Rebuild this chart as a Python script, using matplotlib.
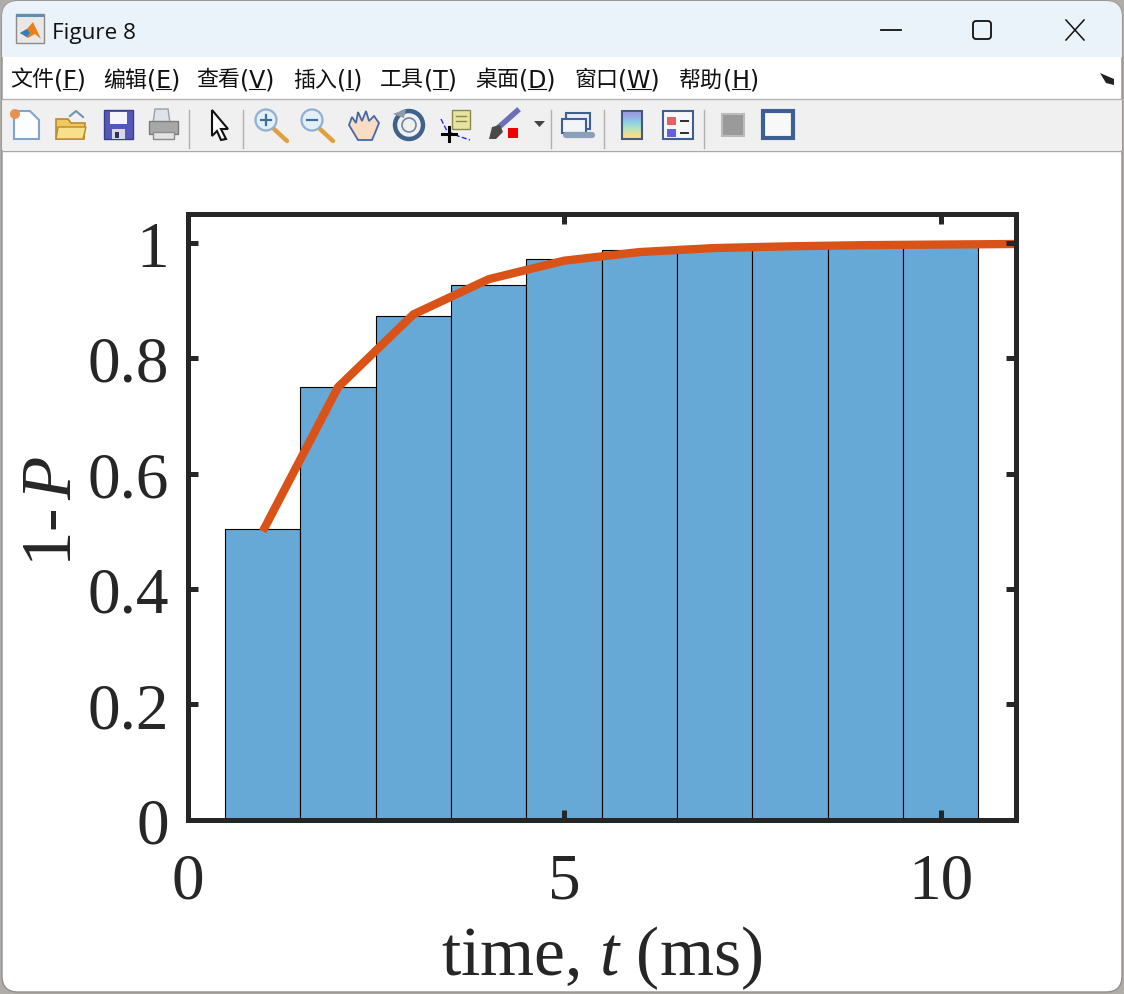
import matplotlib
matplotlib.use("Agg")
import matplotlib.pyplot as plt
from matplotlib.patches import Rectangle, Polygon, Circle, FancyBboxPatch

# ---- data ----
bar_times = [1, 2, 3, 4, 5, 6, 7, 8, 9, 10]
bar_values = [0.504, 0.750, 0.873, 0.927, 0.972, 0.988, 0.995, 0.997, 0.999, 1.000]
line_times = [1, 2, 3, 4, 5, 6, 7, 8, 9, 10, 11]
line_values = [0.500, 0.750, 0.876, 0.937, 0.969, 0.984, 0.991, 0.994, 0.996, 0.997, 0.998]
x_ticks = [0, 5, 10]
y_ticks = [0, 0.2, 0.4, 0.6, 0.8, 1]
y_tick_labels = ["0", "0.2", "0.4", "0.6", "0.8", "1"]
menu_items = [("文件", "F"), ("编辑", "E"), ("查看", "V"), ("插入", "I"),
              ("工具", "T"), ("桌面", "D"), ("窗口", "W"), ("帮助", "H")]
menu_x = [10, 103, 196, 293, 380, 475, 574, 679]

W, H = 1124, 995
plt.rcParams["mathtext.fontset"] = "custom"
plt.rcParams["mathtext.rm"] = "Liberation Serif"
plt.rcParams["mathtext.it"] = "Liberation Serif:italic"
INK = "#262626"
fig = plt.figure(figsize=(W / 100, H / 100), dpi=100, facecolor="#B0ACA8")

# ---- window chrome (pixel overlay below the plot) ----
bg = fig.add_axes([0, 0, 1, 1], zorder=0)
bg.set_xlim(0, W); bg.set_ylim(H, 0); bg.axis("off")
bg.add_patch(FancyBboxPatch((2, 2), W - 4, H - 4, boxstyle="round,pad=0,rounding_size=16",
                            fc="white", ec="#8F8F8F", lw=1))
clip = FancyBboxPatch((2, 2), W - 4, H - 4, boxstyle="round,pad=0,rounding_size=16",
                      fc="none", ec="none", transform=bg.transData)
bg.add_patch(clip)
r = Rectangle((2, 2), W - 4, 56, fc="#EAF3F9", ec="none"); bg.add_patch(r); r.set_clip_path(clip)
bg.add_patch(Rectangle((2, 100), W - 4, 51, fc="#F0F0F0", ec="none"))
bg.plot([2, W - 2], [99.5, 99.5], color="#B4B4B4", lw=1)
bg.plot([2, W - 2], [151.5, 151.5], color="#A8A8A8", lw=1)

bg.text(52, 34, "Figure 8", family="Open Sans", fontsize=16.2, color="#111111", va="center")
# window buttons
bg.plot([881, 901], [31, 31], color="#111111", lw=1.3)
bg.add_patch(FancyBboxPatch((973, 22), 18, 18, boxstyle="round,pad=0,rounding_size=3",
                            fc="none", ec="#111111", lw=1.3))
bg.plot([1066, 1084], [21, 41], color="#111111", lw=1.1)
bg.plot([1066, 1084], [41, 21], color="#111111", lw=1.1)

# menu text with underlined mnemonic
renderer = fig.canvas.get_renderer()
for (zh, key), x0 in zip(menu_items, menu_x):
    t1 = bg.text(x0, 80.5, zh, family="Noto Sans CJK SC", fontsize=15.8, color="#111111",
                 va="center")
    w1 = t1.get_window_extent(renderer).width
    x1 = x0 + w1
    open_w = bg.text(0, 0, "(", family="DejaVu Sans", fontsize=17)
    key_w = bg.text(0, 0, "(" + key, family="DejaVu Sans", fontsize=17)
    a = open_w.get_window_extent(renderer).width
    b = key_w.get_window_extent(renderer).width
    open_w.remove(); key_w.remove()
    bg.text(x1, 80.5, "(" + key + ")", family="DejaVu Sans", fontsize=17, color="#111111",
            va="center")
    bg.plot([x1 + a, x1 + b], [90, 90], color="#111111", lw=0.8)
# small arrow at the right of the menu bar
bg.add_patch(Polygon([[1100, 74], [1114, 80], [1114, 86], [1106, 84]], fc="#222222", ec="none"))

def rect(x, y, w, h, fc, ec="none", lw=1, z=2):
    bg.add_patch(Rectangle((x, y), w, h, fc=fc, ec=ec, lw=lw, zorder=z))
def poly(pts, fc, ec="none", lw=1, z=2):
    bg.add_patch(Polygon(pts, fc=fc, ec=ec, lw=lw, zorder=z))

# MATLAB logo
rect(16, 15, 28, 29, "#E8E8E8", "#8C8C8C")
rect(16, 15, 28, 3, "#5C8FB5")
poly([[20, 34], [27, 30], [33, 23], [41, 40], [35, 35], [28, 39]], "#E8801E")
poly([[20, 34], [27, 30], [30, 34], [27, 38]], "#2F7FC1")

# separators
for x in [189, 243, 551, 604, 704]:
    bg.plot([x, x], [111, 149], color="#B0B0B0", lw=1)

# new file
poly([[14, 112], [30, 112], [39, 121], [39, 140], [14, 140]], "#FBFDFF", "#7FA6C8", 1.5)
bg.add_patch(Circle((15, 115), 5, fc="#E8924F", ec="none", zorder=3))
# open
poly([[56, 120], [68, 120], [71, 124], [85, 124], [84, 140], [56, 140]], "#F0C860", "#B98A2A", 1.2)
poly([[58, 128], [86, 128], [83, 140], [56, 140]], "#F8DF8C", "#B98A2A", 1)
bg.plot([70, 76, 83], [117, 112, 118], color="#6F93B0", lw=1.5)
# save
rect(104, 111, 29, 29, "#5558B8", "#30408A")
rect(110, 113, 17, 12, "#F4F4FA")
rect(112, 130, 13, 10, "#D8D8E4")
rect(115, 133, 4, 6, "#30305A")
# print
poly([[155, 110], [168, 110], [170, 124], [153, 124]], "#DDE3E8", "#9AA0A8")
rect(149, 122, 29, 13, "#A8A8A8", "#7C7C7C")
rect(153, 133, 21, 7, "#E3E3E3", "#8C8C8C")
# pointer
poly([[212, 111], [228, 130], [221, 130], [226, 140], [221, 141], [217, 132], [212, 137]],
     "white", "#111111", 1.5)
# zoom in / out
for cx, sym in [(266, "+"), (312, "-")]:
    bg.plot([cx + 8, cx + 21], [130, 142], color="#E0A040", lw=3.2, solid_capstyle="round", zorder=2)
    bg.add_patch(Circle((cx, 121), 10.5, fc="#E4F0F8", ec="#8FB0CF", lw=1.6, zorder=3))
    bg.plot([cx - 5, cx + 5], [121, 121], color="#3D6F9F", lw=1.6, zorder=4)
    if sym == "+":
        bg.plot([cx, cx], [116, 126], color="#3D6F9F", lw=1.6, zorder=4)
# hand
poly([[349, 126], [352, 118], [356, 124], [358, 113], [362, 122], [366, 112], [369, 122],
      [374, 117], [379, 124], [375, 134], [372, 141], [358, 141]], "#F8DCC4", "#4468A8", 1.3)
# rotate
bg.add_patch(Circle((409, 126), 14, fc="#F0F0F0", ec="#3F628C", lw=3.2))
bg.add_patch(Circle((409, 126), 7, fc="#F0F0F0", ec="#6B87A5", lw=1.2))
poly([[393, 115], [406, 110], [404, 119]], "#8E9AA8")
# data tip
rect(452, 111, 18, 19, "#E8E4A0", "#8A8A50")
bg.plot([456, 466], [117, 117], color="#8A8A50", lw=1)
bg.plot([456, 466], [122, 122], color="#8A8A50", lw=1)
bg.plot([441, 447, 458, 470], [120, 132, 137, 141], color="#2A2AE0", lw=1, ls="--")
bg.plot([442, 456], [135, 135], color="black", lw=2.2, zorder=3)
bg.plot([449, 449], [128, 142], color="black", lw=2.2, zorder=3)
# brush
bg.plot([499, 517], [128, 112], color="#6A70B8", lw=4, zorder=2)
poly([[489, 140], [492, 128], [500, 126], [503, 133], [496, 140]], "#4A4A4A")
rect(508, 129, 10, 10, "#F00000")
poly([[534, 122], [545, 122], [539.5, 128]], "#444444")
# link
rect(566, 114, 24, 16, "#E8EEF4", "#3D5F92", 1.5)
rect(562, 120, 24, 14, "#F2F5F8", "#3D5F92", 1.5)
bg.plot([566, 592], [136, 136], color="#8BA0B8", lw=4.5, solid_capstyle="round")
# colorbar
bg.imshow([[(0.62, 0.62, 0.9)], [(0.55, 0.8, 0.9)], [(0.7, 0.9, 0.75)], [(1.0, 0.85, 0.55)]],
          extent=(622, 642, 140, 112), aspect="auto", zorder=2, interpolation="bilinear")
rect(622, 112, 20, 28, "none", "#46597A", 1.5, 3)
bg.set_xlim(0, W); bg.set_ylim(H, 0)
# legend
rect(663, 112, 30, 28, "#F6F7F9", "#3D5F92", 1.5)
rect(667, 118, 9, 8, "#E86060")
rect(667, 130, 9, 8, "#6060E0")
rect(680, 121, 9, 2, "#333333")
rect(680, 133, 9, 2, "#333333")
# hide tool / plot tools
rect(722, 115, 22, 22, "#9A9A9A", "#BBBBBB", 1.5)
rect(763, 112, 30, 27, "#F8F8F8", "#3D5F92", 3)

# ---- the chart ----
L, R, T, B = 187.5, 1015.8, 215, 820.7
ax = fig.add_axes([L / W, 1 - B / H, (R - L) / W, (B - T) / H], zorder=1)
ax.patch.set_alpha(0)
ax.bar(bar_times, bar_values, width=1, color="#66A9D7", edgecolor="black", linewidth=0.8)
ax.plot(line_times, line_values, color="#D95319", lw=6.0,
        solid_joinstyle="miter", solid_capstyle="butt")
ax.set_xlim(0, 11)
ax.set_ylim(0, 1.05)
ax.set_axisbelow(False)
ax.set_xticks(x_ticks)
ax.set_yticks(y_ticks)
ax.set_yticklabels(y_tick_labels)
ax.tick_params(direction="in", length=7, width=3.6, top=True, right=True, color=INK,
               labelcolor=INK, labelsize=47, labelfontfamily="Liberation Serif")
ax.tick_params(axis="y", pad=13.5)
ax.tick_params(axis="x", pad=23)
for s in ax.spines.values():
    s.set_linewidth(3.6)
    s.set_color(INK)
ax.set_xlabel(r"time, $\mathit{t}$ (ms)", fontsize=50, family="Liberation Serif", color=INK, labelpad=9)
ax.set_ylabel(r"1-$\,\mathit{P}$", fontsize=51, family="Liberation Serif", color=INK)
ax.yaxis.set_label_coords(-0.1226, 0.51)

fig.savefig("out.png", dpi=100, facecolor=fig.get_facecolor())
